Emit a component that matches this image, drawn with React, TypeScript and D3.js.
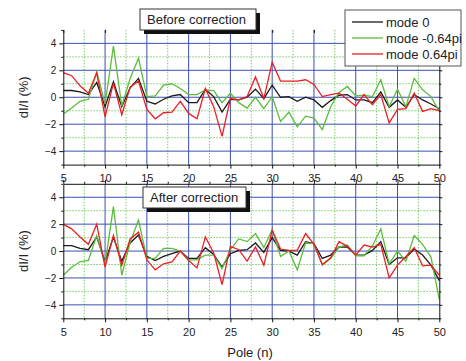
import React, { useEffect, useRef } from 'react';
import { select, scaleLinear, line, axisLeft, axisBottom, axisRight, axisTop } from 'd3';

// pole numbers 5..50
const poles = [
  5, 6, 7, 8, 9, 10, 11, 12, 13, 14, 15, 16, 17, 18, 19, 20, 21, 22, 23, 24, 25, 26, 27,
  28, 29, 30, 31, 32, 33, 34, 35, 36, 37, 38, 39, 40, 41, 42, 43, 44, 45, 46, 47, 48, 49, 50,
];

// before correction
const beforeMode0 = [
  0.5, 0.5, 0.4, 0.2, 1.1, -0.7, 1.15, -0.7, 0.7, 1.4, -0.3, -0.5, -0.15, 0.1, 0.2, -0.4, -0.4, 0.6,
  0.05, -1.1, -0.15, -0.2, 0, 0.6, -0.1, 0.9, 0, 0.05, -0.3, 0, -0.2, -0.75, -0.25, 0.15, 0.2, -0.2,
  -0.2, -0.4, 0.4, -0.75, -0.2, -0.75, 0.2, -0.2, -0.5, -0.85,
];
const beforeMinus = [
  -1.25, -0.8, -0.3, -0.15, 1.9, -0.5, 3.8, -0.65, 1.4, 2.9, 0.05, 0.1, 0.9, 1.0, 0.65, 0.2, 0.2, 0.55,
  0.5, -0.4, 0.3, -0.4, -0.8, 0.0, -0.85, 0.05, -1.8, -1.1, -2.2, -1.4, -1.55, -2.4, -0.7, 0.35, 0.8,
  0.1, 0.15, 0.05, 1.3, -0.7, 0.6, -0.7, 1.4, 0.55, 0.05, -1.05,
];
const beforePlus = [
  1.83, 1.6, 0.85, 0.3, 1.8, -1.45, 1.05, -1.3, 0.75, 1.2, -0.9, -1.6, -1.15, -1.1, -0.3, -1.2, -1.6,
  0.65, -0.7, -2.9, -0.1, -0.2, 0.05, 1.5, -0.1, 2.6, 1.2, 1.2, 1.2, 1.3, 0.95, 0.05, 0.2, 0.3, -0.15,
  -0.65, 0.2, -0.55, 0.2, -1.9, -0.9, -0.85, 0.3, -1.05, -0.85, -1.0,
];

// after correction
const afterMode0 = [
  0.4, 0.4, 0.2, 0.1, 1.05, -0.8, 1.05, -0.75, 0.6, 1.2, -0.4, -0.7, -0.4, -0.2, 0, -0.55, -0.55, 0.25,
  -0.25, -1.2, -0.2, 0.05, 0.1, 0.6, -0.1, 1.0, 0.05, 0, -0.3, 0.7, 0.55, -0.55, -0.3, 0.3, 0.3, -0.3,
  -0.3, 0.05, 0.7, -1.0, -0.5, -0.5, 0.15, -0.3, -1.05, -2.2,
];
const afterMinus = [
  -1.8, -1.2, -0.8, -0.7, 1.15, -0.95, 3.3, -1.8, 0.65, 2.3, -0.55, -0.55, 0.2, 0.2, 0, -0.65, -0.65,
  -0.3, -0.3, -1.3, 0.1, 0.9, 0.7, 1.3, 0.25, 1.6, -0.4, 0, -1.4, 0.6, 0.55, -1.05, -0.55, 0.3, 0.45,
  -0.35, -0.35, 0.4, 1.65, -0.95, 0, -0.75, 1.15, 0.5, -0.45, -3.6,
];
const afterPlus = [
  2.0, 1.65, 1.05, 0.5, 2.0, -1.2, 1.15, -1.05, 0.9, 1.4, -0.65, -1.4, -0.95, -0.8, 0, -0.7, -1.25,
  1.05, -0.15, -2.5, 0.35, 0.1, -0.75, 0.3, -1.05, 1.55, 0.15, 0.05, 0.05, 1.3, 0.5, -1.0, -0.5, 0.7,
  0.35, -0.3, 0.45, 0.3, 0.5, -2.0, -1.05, -0.4, 0.25, -1.1, -1.05, -1.8,
];

const seriesNames = ['mode 0', 'mode -0.64pi', 'mode 0.64pi'];
const seriesColors = ['#1a1a1a', '#5cbc3c', '#ee1d24'];

const xTicks = [5, 10, 15, 20, 25, 30, 35, 40, 45, 50];
const xMinorTicks = [7.5, 12.5, 17.5, 22.5, 27.5, 32.5, 37.5, 42.5, 47.5];
const yTicks = [-4, -2, 0, 2, 4];
const yMinorTicks = [-5, -3, -1, 1, 3, 5];

const W = 466;
const H = 361;
const FONT = '"Liberation Sans", Arial, sans-serif';
const BLUE = '#3a50b2';
const GREEN_GRID = '#77cc66';

export default function App() {
  const svgRef = useRef(null);

  useEffect(() => {
    const svg = select(svgRef.current);
    svg.selectAll('*').remove();

    const x = scaleLinear().domain([5, 50]).range([63.3, 439.3]);
    const [x0, x1] = x.range();

    const panels = [
      {
        top: 29.9,
        bottom: 164.6,
        title: 'Before correction',
        box: [140, 9, 116, 21],
        series: [beforeMode0, beforeMinus, beforePlus],
        topLine: false,
      },
      {
        top: 183.8,
        bottom: 318.3,
        title: 'After correction',
        box: [143, 187, 103, 21],
        series: [afterMode0, afterMinus, afterPlus],
        topLine: true,
      },
    ];

    panels.forEach((p) => {
      const y = scaleLinear().domain([-5, 5]).range([p.bottom, p.top]);
      const g = svg.append('g');

      // minor grid (dotted green)
      g.selectAll('.vmin')
        .data(xMinorTicks)
        .join('line')
        .attr('x1', (d) => x(d))
        .attr('x2', (d) => x(d))
        .attr('y1', p.top)
        .attr('y2', p.bottom)
        .attr('stroke', GREEN_GRID)
        .attr('stroke-width', 1)
        .attr('stroke-dasharray', '1.5,1.5');
      g.selectAll('.hmin')
        .data(yMinorTicks.filter((d) => Math.abs(d) < 5))
        .join('line')
        .attr('x1', x0)
        .attr('x2', x1)
        .attr('y1', (d) => y(d))
        .attr('y2', (d) => y(d))
        .attr('stroke', GREEN_GRID)
        .attr('stroke-width', 1)
        .attr('stroke-dasharray', '1.5,1.5');

      // major grid (blue)
      g.append('g')
        .selectAll('line')
        .data(xTicks.filter((d) => d > 5 && d < 50))
        .join('line')
        .attr('x1', (d) => x(d))
        .attr('x2', (d) => x(d))
        .attr('y1', p.top)
        .attr('y2', p.bottom)
        .attr('stroke', BLUE)
        .attr('stroke-width', 1);
      g.append('g')
        .selectAll('line')
        .data(yTicks)
        .join('line')
        .attr('x1', x0)
        .attr('x2', x1)
        .attr('y1', (d) => y(d))
        .attr('y2', (d) => y(d))
        .attr('stroke', BLUE)
        .attr('stroke-width', 1);

      // data lines
      const lineGen = line()
        .x((d, i) => x(poles[i]))
        .y((d) => y(d));
      p.series.forEach((s, k) => {
        g.append('path')
          .datum(s)
          .attr('d', lineGen)
          .attr('fill', 'none')
          .attr('stroke', seriesColors[k])
          .attr('stroke-width', 1.3)
          .attr('stroke-linejoin', 'miter');
      });

      // axes
      const styleAxis = (a) => {
        a.selectAll('.domain').attr('stroke', '#111');
        a.selectAll('.tick line').attr('stroke', '#111');
        a.selectAll('text').attr('fill', '#222').style('font-family', FONT);
      };

      g.append('g')
        .attr('transform', `translate(${x0},0)`)
        .call(axisLeft(y).tickValues(yTicks).tickSize(4).tickSizeOuter(0).tickPadding(3))
        .call((a) => a.selectAll('text').style('font-size', '10px'))
        .call(styleAxis);
      g.append('g')
        .attr('transform', `translate(${x0},0)`)
        .call(axisLeft(y).tickValues(yMinorTicks).tickSize(2).tickSizeOuter(0).tickFormat(() => ''))
        .call((a) => a.select('.domain').remove())
        .call(styleAxis);

      g.append('g')
        .attr('transform', `translate(${x1},0)`)
        .call(axisRight(y).tickValues(yTicks).tickSize(3).tickSizeOuter(0).tickFormat(() => ''))
        .call(styleAxis);
      g.append('g')
        .attr('transform', `translate(${x1},0)`)
        .call(axisRight(y).tickValues(yMinorTicks).tickSize(2).tickSizeOuter(0).tickFormat(() => ''))
        .call((a) => a.select('.domain').remove())
        .call(styleAxis);

      g.append('g')
        .attr('transform', `translate(0,${p.bottom})`)
        .call(axisBottom(x).tickValues(xTicks).tickSize(4).tickSizeOuter(0).tickPadding(6))
        .call((a) => a.selectAll('text').style('font-size', '11px'))
        .call(styleAxis);
      g.append('g')
        .attr('transform', `translate(0,${p.bottom})`)
        .call(axisBottom(x).tickValues(xMinorTicks).tickSize(2).tickSizeOuter(0).tickFormat(() => ''))
        .call((a) => a.select('.domain').remove())
        .call(styleAxis);

      if (p.topLine) {
        g.append('g')
          .attr('transform', `translate(0,${p.top})`)
          .call(axisTop(x).tickValues(xTicks).tickSize(4).tickSizeOuter(0).tickFormat(() => ''))
          .call(styleAxis);
        g.append('g')
          .attr('transform', `translate(0,${p.top})`)
          .call(axisTop(x).tickValues(xMinorTicks).tickSize(2).tickSizeOuter(0).tickFormat(() => ''))
          .call((a) => a.select('.domain').remove())
          .call(styleAxis);
      } else {
        g.append('g')
          .attr('transform', `translate(0,${p.top})`)
          .call(axisTop(x).tickValues(xTicks).tickSize(-3).tickSizeOuter(0).tickFormat(() => ''))
          .call((a) => a.select('.domain').remove())
          .call(styleAxis);
      }

      // y label
      g.append('text')
        .attr('transform', `translate(23,${y(0)}) rotate(-90)`)
        .attr('text-anchor', 'middle')
        .attr('dominant-baseline', 'central')
        .style('font-family', FONT)
        .style('font-size', '13px')
        .attr('fill', '#222')
        .text('dI/I (%)');

      // title box with shadow
      const [bx, by, bw, bh] = p.box;
      g.append('rect')
        .attr('x', bx + 4)
        .attr('y', by + 4)
        .attr('width', bw)
        .attr('height', bh)
        .attr('fill', '#111');
      g.append('rect')
        .attr('x', bx)
        .attr('y', by)
        .attr('width', bw)
        .attr('height', bh)
        .attr('fill', '#fff')
        .attr('stroke', '#333')
        .attr('stroke-width', 1);
      g.append('text')
        .attr('x', bx + 7)
        .attr('y', by + bh / 2)
        .attr('dominant-baseline', 'central')
        .style('font-family', FONT)
        .style('font-size', '13px')
        .attr('fill', '#222')
        .text(p.title);
    });

    // legend
    const lg = svg.append('g');
    lg.append('rect')
      .attr('x', 345)
      .attr('y', 10)
      .attr('width', 116)
      .attr('height', 56)
      .attr('fill', '#fff')
      .attr('stroke', '#555')
      .attr('stroke-width', 1);
    seriesNames.forEach((name, k) => {
      const ly = 22 + k * 16;
      lg.append('line')
        .attr('x1', 352)
        .attr('x2', 383)
        .attr('y1', ly)
        .attr('y2', ly)
        .attr('stroke', seriesColors[k])
        .attr('stroke-width', 1.3);
      lg.append('text')
        .attr('x', 386)
        .attr('y', ly)
        .attr('dominant-baseline', 'central')
        .style('font-family', FONT)
        .style('font-size', '13px')
        .attr('fill', '#222')
        .text(name);
    });

    // x label
    svg
      .append('text')
      .attr('x', 250)
      .attr('y', 352)
      .attr('text-anchor', 'middle')
      .attr('dominant-baseline', 'central')
      .style('font-family', FONT)
      .style('font-size', '13px')
      .attr('fill', '#222')
      .text('Pole (n)');
  }, []);

  return (
    <svg
      ref={svgRef}
      width={W}
      height={H}
      style={{ position: 'absolute', left: 0, top: 0, background: '#fff' }}
    />
  );
}
